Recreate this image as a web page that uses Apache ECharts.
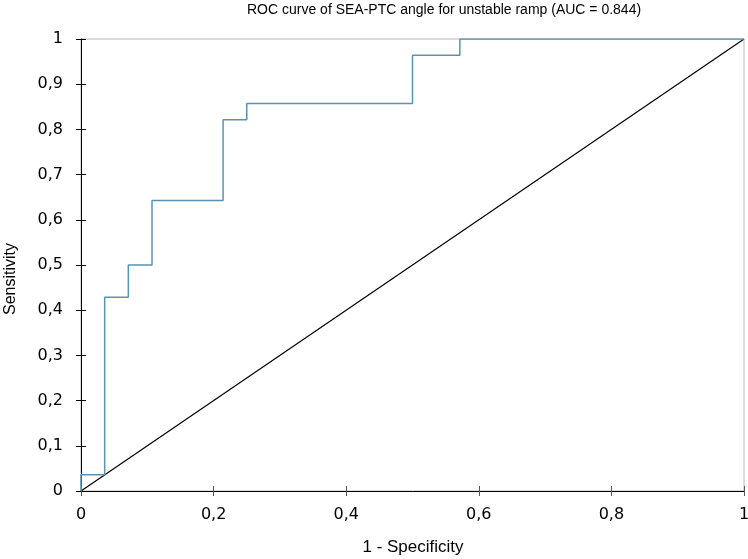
<!DOCTYPE html>
<html>
<head>
<meta charset="utf-8">
<script src="https://cdn.jsdelivr.net/npm/echarts@6/dist/echarts.min.js"></script>
<style>html,body{margin:0;padding:0;background:#fff}#c{width:748px;height:559px}</style>
</head>
<body>
<div id="c"></div>
<script>
var fpr = [0, 0, 0.0357, 0.0357, 0.0714, 0.0714, 0.1071, 0.1071, 0.2143, 0.2143, 0.25, 0.25, 0.5, 0.5, 0.5714, 0.5714, 1];
var tpr = [0, 0.0357, 0.0357, 0.4286, 0.4286, 0.5, 0.5, 0.6429, 0.6429, 0.8214, 0.8214, 0.8571, 0.8571, 0.9643, 0.9643, 1, 1];
var diagX = [0, 1];
var diagY = [0, 1];
var titleText = 'ROC curve of SEA-PTC angle for unstable ramp (AUC = 0.844)';
var xName = '1 - Specificity';
var yName = 'Sensitivity';

function fmt(v) { return (Math.round(v * 10) / 10).toString().replace('.', ','); }
var roc = fpr.map(function (x, i) { return [x, tpr[i]]; });
var diag = diagX.map(function (x, i) { return [x, diagY[i]]; });

var chart = echarts.init(document.getElementById('c'));
var labelFont = { fontFamily: 'DejaVu Sans', fontSize: 16, color: '#000' };
var baseX = {
  type: 'value', min: 0, max: 1, interval: 0.2, position: 'bottom',
  splitLine: { show: false },
  axisLine: { show: true, lineStyle: { color: '#000', width: 1 } }
};
var baseY = {
  type: 'value', min: 0, max: 1, interval: 0.1, position: 'left',
  splitLine: { show: false },
  axisLine: { show: true, lineStyle: { color: '#000', width: 1 } }
};
chart.setOption({
  animation: false,
  title: {
    text: titleText, left: 247, top: 3, padding: 0,
    textStyle: { fontFamily: 'Liberation Sans', fontSize: 14, fontWeight: 'normal', color: '#000' }
  },
  grid: { left: 81, right: 4, top: 39, bottom: 68, containLabel: false, outerBoundsMode: 'none', show: true, borderColor: '#b8b8b8', borderWidth: 1 },
  xAxis: [
    Object.assign({}, baseX, {
      axisTick: { show: true, inside: false, length: 5, lineStyle: { color: '#555' } },
      axisLabel: Object.assign({ formatter: fmt, margin: 16 }, labelFont)
    }),
    Object.assign({}, baseX, {
      axisLine: { show: false },
      axisTick: { show: true, inside: true, length: 5, lineStyle: { color: '#555' } },
      axisLabel: { show: false }
    })
  ],
  yAxis: [
    Object.assign({}, baseY, {
      axisTick: { show: true, inside: false, length: 5, lineStyle: { color: '#000' } },
      axisLabel: Object.assign({ formatter: fmt, margin: 18 }, labelFont)
    }),
    Object.assign({}, baseY, {
      axisLine: { show: false },
      axisTick: { show: true, inside: true, length: 5, lineStyle: { color: '#000' } },
      axisLabel: { show: false }
    })
  ],
  graphic: [
    { type: 'text', x: 413, y: 539, style: { text: xName, font: '17px "Liberation Sans"', fill: '#000', align: 'center', verticalAlign: 'top' } },
    { type: 'text', x: 3, y: 279, rotation: Math.PI / 2, style: { text: yName, font: '16px "Liberation Sans"', fill: '#000', align: 'center', verticalAlign: 'top' } }
  ],
  series: [
    { type: 'line', data: diag, showSymbol: false, lineStyle: { color: '#000', width: 1.2 }, z: 3 },
    { type: 'line', data: roc, showSymbol: false, lineStyle: { color: '#5a93b0', width: 1.5 }, z: 4 }
  ]
});
</script>
</body>
</html>
